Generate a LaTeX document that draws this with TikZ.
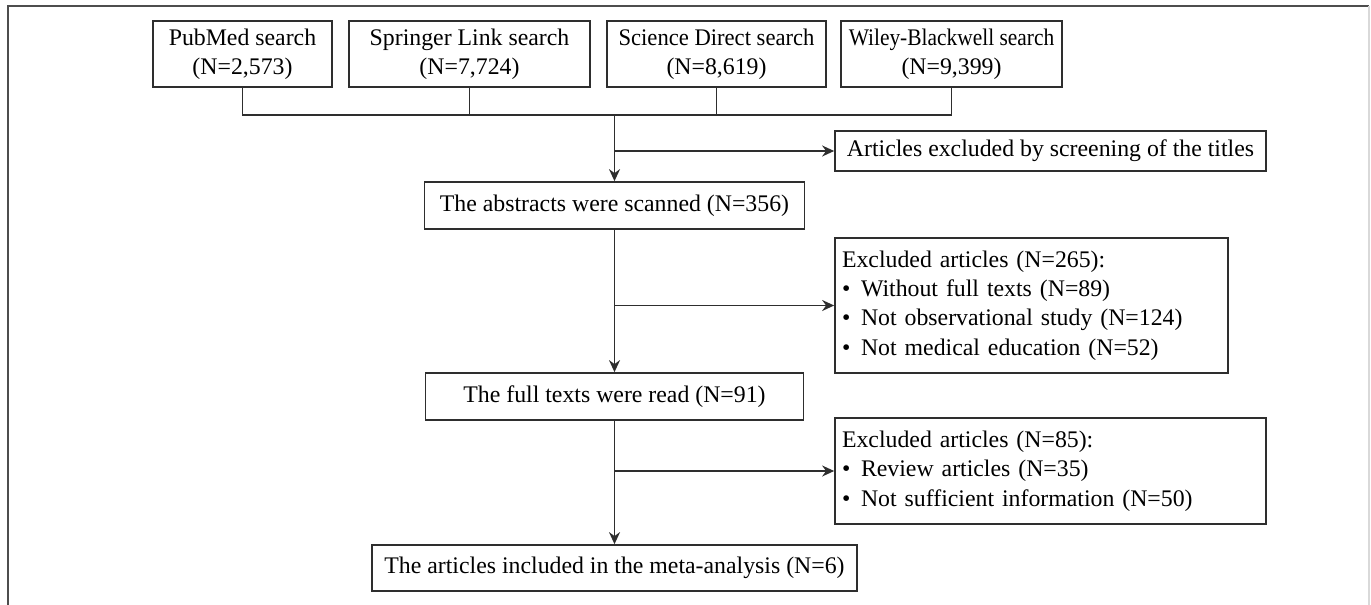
\documentclass[tikz,border=0pt]{standalone}
\usepackage{fontspec}
\setmainfont{Liberation Serif}
\usetikzlibrary{arrows.meta}
\definecolor{edge}{HTML}{2E2E2E}
\begin{document}
\begin{tikzpicture}[x=0.5pt,y=-0.5pt,
  every node/.style={font=\fontsize{11.9}{14.7}\selectfont},
  box/.style={draw=edge, line width=0.85pt, inner xsep=3.5pt, inner ysep=2pt, align=center, fill=white},
  sbox/.style={box, inner xsep=0.5pt, minimum height=33pt},
  lbox/.style={box, align=left},
  conn/.style={draw=edge, line width=0.85pt},
  arr/.style={conn, -{Stealth[length=6pt,width=5.5pt]}}]
\useasboundingbox (0,0) rectangle (1371,605);
% frame
\draw[edge!85, line width=1.2pt] (8,605) -- (8,6) -- (1369,6);
\draw[black!15, line width=0.6pt] (1369,6) -- (1369,605);
% sources
\node[sbox, minimum width=89.5pt] (pub) at (242.5,54) {PubMed search\\(N=2,573)};
\node[sbox, minimum width=120.5pt] (spr) at (469.5,54) {Springer Link search\\(N=7,724)};
\node[sbox, minimum width=109.5pt] (sd) at (716.5,54) {\scalebox{0.95}[1]{Science Direct search}\\(N=8,619)};
\node[sbox, minimum width=110.5pt] (wil) at (951.5,54) {\scalebox{0.9}[1]{Wiley-Blackwell search}\\(N=9,399)};
% flow
\node[box, minimum width=215.5pt, minimum height=20pt] (art) at (1050.5,151) {Articles excluded by screening of the titles};
\node[box, minimum width=190pt, minimum height=23.5pt] (abs) at (614.5,205.5) {The abstracts were scanned (N=356)};
\node[lbox, text width=189.5pt, minimum height=67.5pt] (ex1) at (1031.5,305.5) {Excluded articles (N=265):\\
\textbullet\hspace{0.45em}Without full texts (N=89)\\
\textbullet\hspace{0.45em}Not observational study (N=124)\\
\textbullet\hspace{0.45em}Not medical education (N=52)};
\node[box, minimum width=189pt, minimum height=23.5pt] (ful) at (614.5,396.5) {The full texts were read (N=91)};
\node[lbox, text width=208.5pt, minimum height=53pt] (ex2) at (1050.5,471) {Excluded articles (N=85):\\
\textbullet\hspace{0.45em}Review articles (N=35)\\
\textbullet\hspace{0.45em}Not sufficient information (N=50)};
\node[box, minimum width=242.5pt, minimum height=23pt] (fin) at (614.5,568) {The articles included in the meta-analysis (N=6)};
% connectors
\coordinate (j) at (614.5,115);
\draw[conn] (pub.south) |- (j) -| (wil.south);
\draw[conn] (spr.south) -- (spr.south |- j);
\draw[conn] (sd.south) -- (sd.south |- j);
\draw[arr] (j) -- (abs.north);
\draw[arr] (j |- art.west) -- (art.west);
\draw[arr] (abs.south) -- (ful.north);
\draw[arr] (abs.south |- ex1.west) -- (ex1.west);
\draw[arr] (ful.south) -- (fin.north);
\draw[arr] (ful.south |- ex2.west) -- (ex2.west);
\end{tikzpicture}
\end{document}
